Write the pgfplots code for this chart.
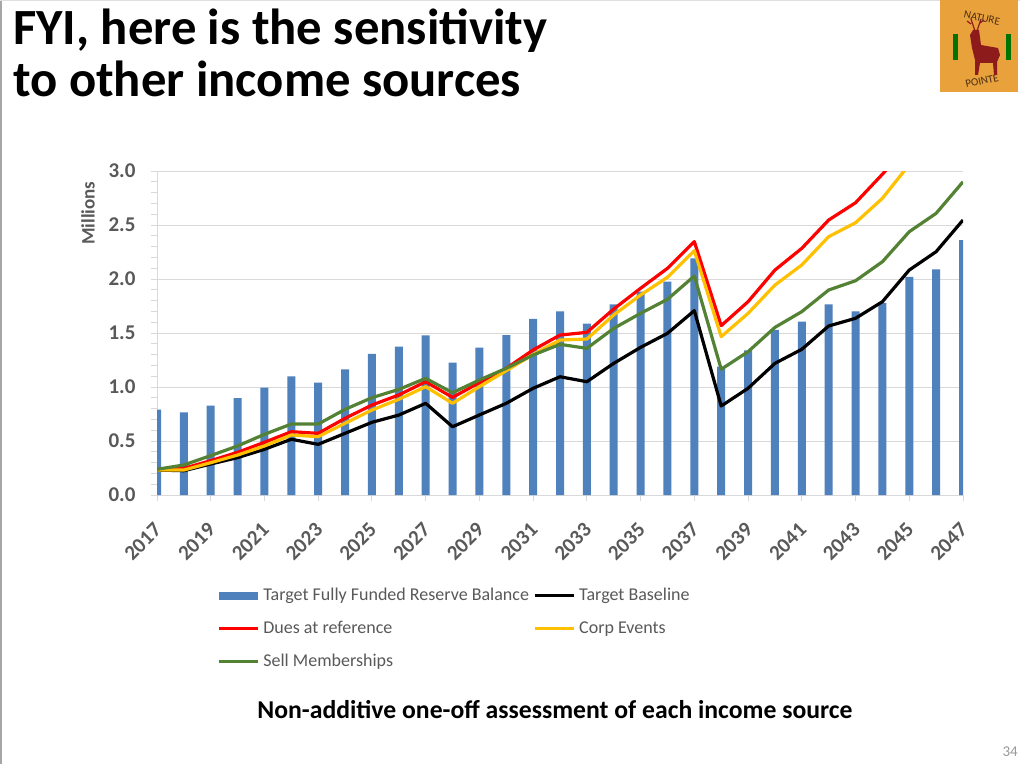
\documentclass[border=0pt]{standalone}
\usepackage{pgfplots}
\pgfplotsset{compat=1.18}
\usepackage{pgfplotstable}
\usepackage{fontspec}
\setmainfont{Carlito}
\definecolor{barblue}{HTML}{4F81BD}
\definecolor{lred}{HTML}{FF0000}
\definecolor{lyellow}{HTML}{FFC000}
\definecolor{lgreen}{HTML}{548235}
\definecolor{txtgrey}{HTML}{595959}
\definecolor{gridgrey}{HTML}{D9D9D9}
\definecolor{logobg}{HTML}{E9A23B}
\definecolor{deer}{HTML}{8E1B1B}
\definecolor{logotxt}{HTML}{4A2E14}

\pgfplotstableread{
year bal   base  dues  corp  sell
2017 0.790 0.231 0.238 0.231 0.238
2018 0.765 0.225 0.247 0.231 0.278
2019 0.827 0.287 0.318 0.299 0.365
2020 0.898 0.346 0.395 0.370 0.454
2021 0.994 0.423 0.488 0.454 0.562
2022 1.099 0.516 0.586 0.556 0.657
2023 1.040 0.469 0.571 0.540 0.657
2024 1.164 0.571 0.710 0.664 0.793
2025 1.306 0.673 0.833 0.787 0.901
2026 1.373 0.740 0.926 0.886 0.978
2027 1.478 0.849 1.049 1.003 1.080
2028 1.225 0.632 0.904 0.849 0.947
2029 1.364 0.741 1.040 1.003 1.065
2030 1.481 0.849 1.173 1.151 1.173
2031 1.630 0.988 1.343 1.302 1.296
2032 1.700 1.095 1.481 1.435 1.395
2033 1.586 1.049 1.506 1.444 1.358
2034 1.766 1.219 1.722 1.667 1.543
2035 1.883 1.367 1.914 1.852 1.682
2036 1.975 1.497 2.099 2.016 1.812
2037 2.190 1.707 2.346 2.262 2.028
2038 1.188 0.824 1.568 1.466 1.164
2039 1.340 0.988 1.790 1.682 1.327
2040 1.530 1.219 2.083 1.944 1.552
2041 1.605 1.349 2.284 2.130 1.698
2042 1.766 1.565 2.546 2.392 1.898
2043 1.700 1.636 2.706 2.521 1.984
2044 1.780 1.790 2.970 2.747 2.160
2045 2.020 2.083 3.250 3.060 2.438
2046 2.090 2.253 3.500 3.350 2.608
2047 2.360 2.546 3.800 3.600 2.900
}\datatable

\begin{document}
\begin{tikzpicture}[x=1pt,y=1pt]
\useasboundingbox (0,0) rectangle (1020,764);
\fill[white] (0,0) rectangle (1020,764);
\draw[gray!70, line width=1.5pt] (0.75,0) -- (0.75,764);
\draw[gray!25, line width=1pt] (0,763.5) -- (1020,763.5);

% title
\node[anchor=base west, inner sep=0pt, font=\fontsize{50.7}{50.7}\selectfont\bfseries] at (13,719) {FYI, here is the sensitivity};
\node[anchor=base west, inner sep=0pt, font=\fontsize{50.7}{50.7}\selectfont\bfseries] at (13,667) {to other income sources};

% logo
\fill[logobg] (940,672) rectangle (1018,764);
\fill[green!45!black] (953,704) rectangle (958,730);
\fill[green!45!black] (1006,704) rectangle (1011,730);
\node[font=\fontsize{11}{11}\selectfont, text=logotxt, rotate=-12, inner sep=0pt] at (982,746) {NATURE};
\node[font=\fontsize{11}{11}\selectfont, text=logotxt, rotate=12, inner sep=0pt] at (982,683) {POINTE};
\fill[deer] (973,734) -- (979,734) -- (981,719) -- (998,716) -- (1000,709) -- (997,702) -- (997,689) -- (994,689) -- (993,701) -- (980,701) -- (978,689) -- (975,689) -- (975,704) -- (972,716) -- (970,729) -- cycle;
\draw[deer, line width=1.2pt] (975,733) -- (971,745) (971,740) -- (967,743) (977,733) -- (981,745) (980,741) -- (984,744);

% subtitle and page number
\node[anchor=base, inner sep=0pt, font=\fontsize{25.7}{25.7}\selectfont\bfseries] at (555,46) {Non-additive one-off assessment of each income source};
\node[anchor=base east, inner sep=0pt, font=\fontsize{15}{15}\selectfont, text=gray!80] at (1018,8) {34};

\begin{axis}[
  at={(157pt,269pt)}, anchor=south west,
  scale only axis, width=806pt, height=324pt,
  xmin=2017, xmax=2047, ymin=0, ymax=3,
  axis x line*=bottom, axis y line*=left,
  axis line style={draw=gridgrey, line width=1pt},
  ymajorgrids, grid style={draw=gridgrey, line width=1pt},
  ytick={0,0.5,1,1.5,2,2.5,3},
  minor y tick num=4,
  xtick={2017,2019,...,2047},
  minor x tick num=1,
  xticklabels={2017,2019,2021,2023,2025,2027,2029,2031,2033,2035,2037,2039,2041,2043,2045,2047},
  tick align=outside,
  major tick length=6pt, minor tick length=6pt,
  tick style={draw=gridgrey, line width=1pt},
  /pgf/number format/.cd, fixed, fixed zerofill, precision=1, assume math mode=true,
  /pgfplots/.cd,
  yticklabel style={font=\fontsize{21}{21}\selectfont\bfseries, text=txtgrey, xshift=-12pt},
  xticklabel style={font=\fontsize{21}{21}\selectfont\bfseries, text=txtgrey, xshift=-4pt, yshift=-19pt, rotate=45, anchor=north east, inner sep=1pt},
  ylabel={Millions},
  ylabel style={at={(axis description cs:-0.0856,0.870)}, anchor=center, font=\fontsize{19}{19}\selectfont\bfseries, text=txtgrey},
  legend columns=2,
  legend style={at={(axis description cs:0.0744,-0.284)}, anchor=north west, draw=none, fill=none, inner sep=0pt,
    font=\fontsize{18}{18}\selectfont, text=txtgrey,
    nodes={inner sep=1pt, text height=12pt, text depth=3pt, anchor=west},
    row sep=16pt, column sep=3pt},
  legend cell align=left,
]
\addplot[ybar, bar width=8pt, fill=barblue, draw=none,
  legend image code/.code={\fill[barblue] (0pt,-4pt) rectangle (39pt,4pt);}]
  table[x=year, y=bal] {\datatable};
\addlegendentry{Target Fully Funded Reserve Balance}
\pgfplotsset{every axis plot/.append style={line width=3.2pt, line join=round,
  legend image code/.code={\draw[##1, line width=3.2pt] (0pt,0pt) -- (39pt,0pt);}}}
\addplot[black, mark=none] table[x=year, y=base] {\datatable};
\addlegendentry{Target Baseline}
\addplot[lred, mark=none] table[x=year, y=dues] {\datatable};
\addlegendentry{Dues at reference}
\addplot[lyellow, mark=none] table[x=year, y=corp] {\datatable};
\addlegendentry{Corp Events}
\addplot[lgreen, mark=none] table[x=year, y=sell] {\datatable};
\addlegendentry{Sell Memberships}
\end{axis}
\end{tikzpicture}
\end{document}
